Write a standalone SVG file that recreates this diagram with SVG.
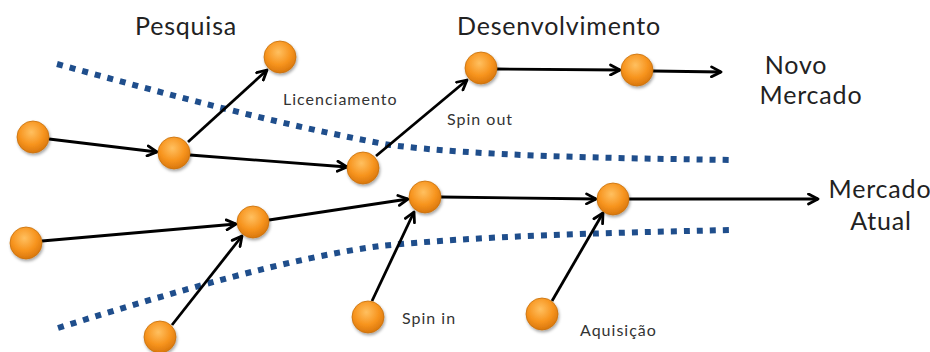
<svg xmlns="http://www.w3.org/2000/svg" width="930" height="352" viewBox="0 0 930 352">
<defs>
<radialGradient id="og" cx="0.45" cy="0.35" r="0.65">
<stop offset="0" stop-color="#FFC060"/>
<stop offset="0.6" stop-color="#F7941E"/>
<stop offset="1" stop-color="#D9770C"/>
</radialGradient>
<filter id="sh" x="-30%" y="-30%" width="160%" height="160%">
<feDropShadow dx="1" dy="2" stdDeviation="1.5" flood-color="#000" flood-opacity="0.35"/>
</filter>
<marker id="ah" viewBox="0 0 13 13" refX="11" refY="6.5" markerWidth="13" markerHeight="13" markerUnits="userSpaceOnUse" orient="auto">
<path d="M1.5,1.5 L11,6.5 L1.5,11.5" fill="none" stroke="#000" stroke-width="2.8" stroke-linecap="round" stroke-linejoin="round"/>
</marker>
</defs>
<style>
.node{fill:url(#og);stroke:#C8700E;stroke-width:0.8;filter:url(#sh)}
.c{stroke:#000;stroke-width:2.8;fill:none;marker-end:url(#ah)}
.dot{stroke:#1F4E8C;stroke-width:6;fill:none;stroke-dasharray:6 7}
.big{font-family:Lato,"Open Sans","Liberation Sans",sans-serif;font-size:25px;letter-spacing:0.8px;fill:#222;text-anchor:middle}
.sm{font-family:Lato,"Open Sans","Liberation Sans",sans-serif;font-size:16px;letter-spacing:1px;fill:#333}
</style>
<g id="boundaries">
<path class="dot" d="M57,64 C170,95 280,125 390,145 C480,156 600,158 732,160"/>
<path class="dot" d="M58,328 C180,290 290,258 380,246 C480,236 600,233 732,230"/>
</g>
<g id="connectors">
<line class="c" x1="49" y1="139" x2="157" y2="152"/>
<line class="c" x1="188" y1="142" x2="267" y2="70"/>
<line class="c" x1="190" y1="155" x2="347" y2="167"/>
<line class="c" x1="376" y1="156" x2="467" y2="80"/>
<line class="c" x1="497" y1="69" x2="620" y2="70"/>
<line class="c" x1="653" y1="71" x2="721" y2="72"/>
<line class="c" x1="42" y1="241" x2="236" y2="224"/>
<line class="c" x1="269" y1="220" x2="408" y2="199"/>
<line class="c" x1="441" y1="197" x2="596" y2="199"/>
<line class="c" x1="629" y1="199" x2="818" y2="199"/>
<line class="c" x1="172" y1="325" x2="242" y2="236"/>
<line class="c" x1="372" y1="301" x2="414" y2="212"/>
<line class="c" x1="552" y1="301" x2="603" y2="213"/>
</g>
<g id="n1"><circle class="node" cx="33" cy="137" r="16"/></g>
<g id="n2"><circle class="node" cx="174" cy="153" r="16"/></g>
<g id="n3"><circle class="node" cx="280" cy="57" r="16"/></g>
<g id="n4"><circle class="node" cx="363" cy="168" r="16"/></g>
<g id="n5"><circle class="node" cx="481" cy="68" r="16"/></g>
<g id="n6"><circle class="node" cx="637" cy="70" r="16"/></g>
<g id="n7"><circle class="node" cx="26" cy="243" r="16"/></g>
<g id="n8"><circle class="node" cx="253" cy="222" r="16"/></g>
<g id="n9"><circle class="node" cx="425" cy="197" r="16"/></g>
<g id="n10"><circle class="node" cx="613" cy="199" r="16"/></g>
<g id="n11"><circle class="node" cx="160" cy="337" r="16"/></g>
<g id="n12"><circle class="node" cx="368" cy="317" r="16"/></g>
<g id="n13"><circle class="node" cx="542" cy="314" r="16"/></g>
<g id="labels">
<text class="big" x="186" y="35">Pesquisa</text>
<text class="big" x="559" y="35">Desenvolvimento</text>
<text class="big" x="796" y="74">Novo</text>
<text class="big" x="811" y="104">Mercado</text>
<text class="big" x="880" y="198">Mercado</text>
<text class="big" x="881" y="230">Atual</text>
<text class="sm" x="283" y="105">Licenciamento</text>
<text class="sm" x="447" y="125">Spin out</text>
<text class="sm" x="402" y="324">Spin in</text>
<text class="sm" x="580" y="336">Aquisição</text>
</g>
</svg>
